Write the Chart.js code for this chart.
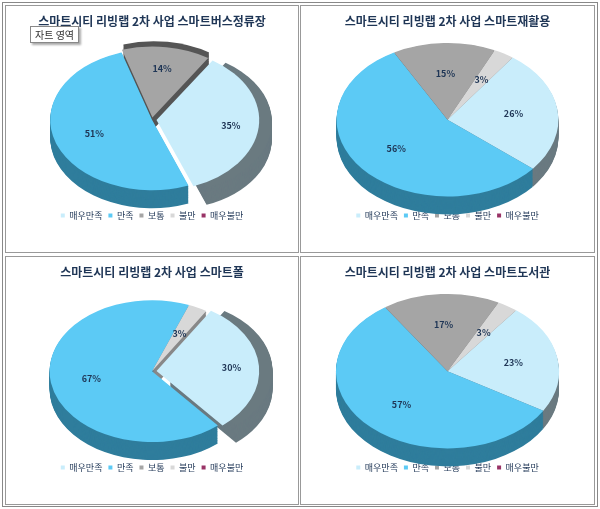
<!DOCTYPE html><html><head><meta charset="utf-8">
<script src="https://cdn.jsdelivr.net/npm/chart.js@4"></script>
<style>
body{margin:0;background:#fff;font-family:"Noto Sans CJK KR",sans-serif}
#outer{position:absolute;left:2px;top:2px;width:594px;height:503px;border:1px solid #888}
.p{position:absolute;border:1px solid #999;background:#fff}
.p canvas{position:absolute;left:0;top:0}
#tip{position:absolute;left:30px;top:26px;font-size:10px;color:#333;background:#fff;border:1px solid #888;padding:0 4px;box-shadow:2px 2px 2px #aaa;z-index:5}
</style></head><body>
<div id="outer"></div>
<div id="tip">자트 영역</div>
<script>
const categories=['매우만족','만족','보통','불만','매우불만'];
const titles=['스마트시티 리빙랩 2차 사업 스마트버스정류장','스마트시티 리빙랩 2차 사업 스마트재활용','스마트시티 리빙랩 2차 사업 스마트폴','스마트시티 리빙랩 2차 사업 스마트도서관'];
const values1=[35,51,14,0,0];
const values2=[26,56,15,3,0];
const values3=[30,67,0,3,0];
const values4=[23,57,17,3,0];
const allValues=[values1,values2,values3,values4];
const colors=['#c9edfb','#5ccaf5','#a5a5a5','#d8d8d8','#993366'];
const dark=['#6a7a80','#2f7d9c','#555','#888','#552'];
const offsets=[[14,0,10,0,0],[0,0,0,0,0],[14,0,0,0,0],[0,0,0,0,0]];
const rotations=[33,36,32,38];
const panels=[[5,5,292,246],[300,5,293,246],[5,256,292,247],[300,256,293,247]];
const SX=1.3,SY=0.9,DEPTH=18;
const tilt={id:'tilt',
 beforeDatasetsDraw(c){const m=c.getDatasetMeta(0),ctx=c.ctx,a=m.data[0];
  ctx.save();ctx.translate(a.x,a.y);ctx.scale(SX,SY);ctx.translate(-a.x,-a.y);
  for(let d=Math.round(DEPTH/SY);d>0;d--){
   m.data.forEach((el,i)=>{if(!el.circumference)return;const o=el.options.offset||0,mid=(el.startAngle+el.endAngle)/2;
    const ox=Math.cos(mid)*o,oy=Math.sin(mid)*o;
    ctx.beginPath();ctx.moveTo(el.x+ox,el.y+oy+d);ctx.arc(el.x+ox,el.y+oy+d,el.outerRadius,el.startAngle,el.endAngle);ctx.closePath();
    ctx.fillStyle=dark[i];ctx.fill();});}
 },
 afterDatasetsDraw(c){const ctx=c.ctx,m=c.getDatasetMeta(0);ctx.restore();
  const vals=c.data.datasets[0].data;
  m.data.forEach((el,i)=>{if(!vals[i])return;const mid=(el.startAngle+el.endAngle)/2,r=el.outerRadius*0.6+(el.options.offset||0);
   const x=el.x+Math.cos(mid)*r*SX,y=el.y+Math.sin(mid)*r*SY;
   ctx.fillStyle='#1f3656';ctx.font='bold 9px "Noto Sans CJK KR"';ctx.textAlign='center';ctx.textBaseline='middle';ctx.fillText(vals[i]+'%',x,y);});
 }};
panels.forEach((p,k)=>{
 const d=document.createElement('div');d.className='p';d.style.cssText=`left:${p[0]}px;top:${p[1]}px;width:${p[2]}px;height:${p[3]}px`;
 const cv=document.createElement('canvas');d.appendChild(cv);document.body.appendChild(d);
 new Chart(cv,{type:'pie',plugins:[tilt],
  data:{labels:categories,datasets:[{data:allValues[k],backgroundColor:colors,borderWidth:0,offset:offsets[k]}]},
  options:{responsive:true,maintainAspectRatio:false,animation:false,rotation:rotations[k],
   layout:{padding:{top:2,bottom:22,left:10,right:10}},
   plugins:{tooltip:{enabled:false},
    title:{display:true,text:titles[k],color:'#1f3656',font:{size:12,weight:'bold',family:'"Noto Sans CJK KR"'},padding:{top:6,bottom:6}},
    legend:{position:'bottom',labels:{boxWidth:4,boxHeight:4,padding:6,color:'#1f3656',font:{size:9,family:'"Noto Sans CJK KR"'}}}}}});
});
</script></body></html>
